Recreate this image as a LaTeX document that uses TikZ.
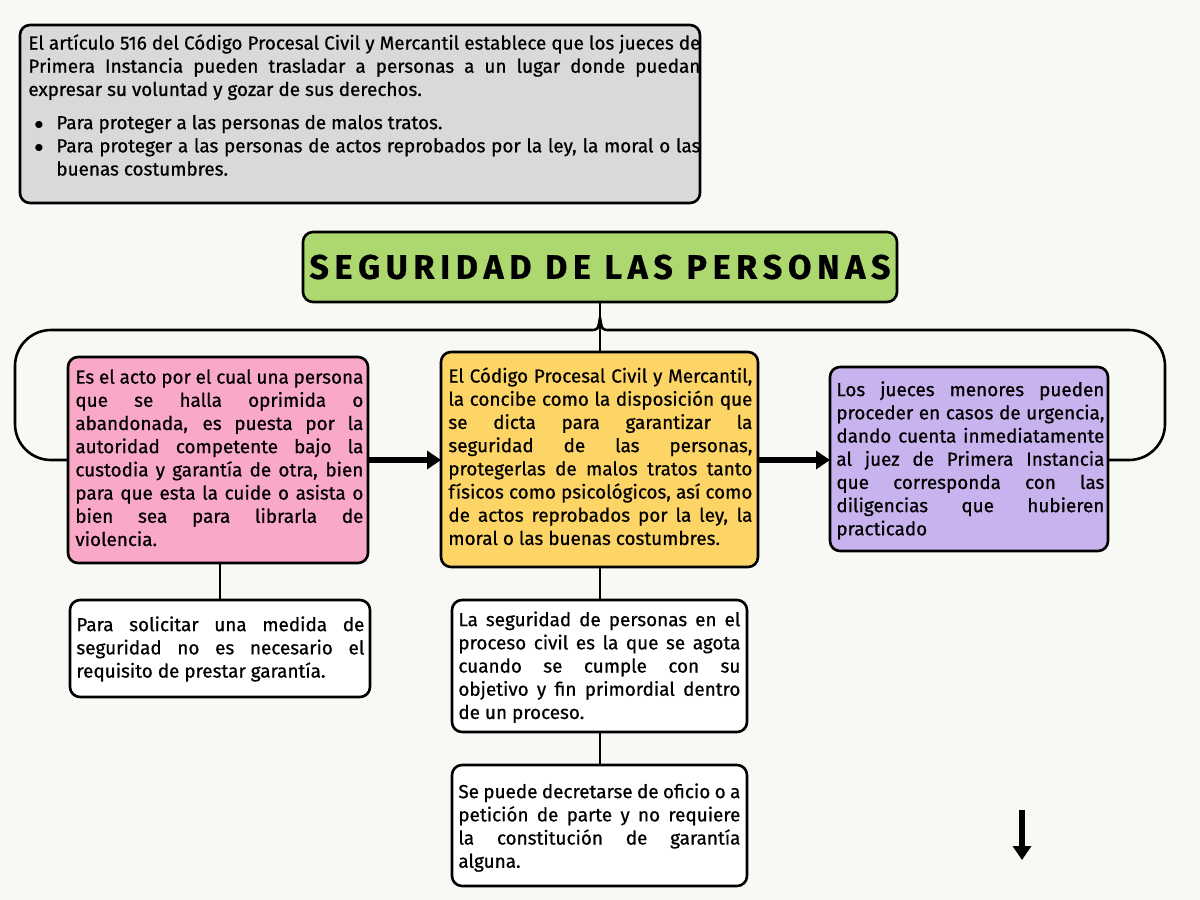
\documentclass[tikz,border=0pt]{standalone}
\usepackage{fontspec}
\setmainfont{Fira Sans}[FakeBold=0.7]
\usetikzlibrary{arrows.meta}
\definecolor{bg}{HTML}{F8F8F4}
\definecolor{gr}{HTML}{D9D9D9}
\definecolor{grn}{HTML}{ADD870}
\definecolor{pk}{HTML}{F9A8C8}
\definecolor{ye}{HTML}{FDD466}
\definecolor{pu}{HTML}{C9B3EE}
\newcommand\myNoHy{\hyphenpenalty=10000\relax\exhyphenpenalty=10000\relax\lefthyphenmin=62\relax\righthyphenmin=62\relax\tolerance=9999\relax\emergencystretch=30pt\relax}
\newcommand\lb{\linebreak}
\begin{document}
\begin{tikzpicture}[x=0.5pt,y=-0.5pt,
 bx/.style={draw=black,line width=1.3pt,rounded corners=5pt,inner sep=0pt},
 tx/.style={align=justify,font=\fontsize{9.45}{11.6}\selectfont,inner sep=0pt,execute at begin node=\myNoHy},
 ln/.style={line width=1.3pt},
 ar/.style={line width=3pt,-{Triangle[length=7pt,width=9pt]}}]
\fill[bg] (0,0) rectangle (1200,900);
\path[use as bounding box] (0,0) rectangle (1200,900);
% boxes
\draw[bx,fill=gr] (20,25) rectangle (700,203);
\node[tx,anchor=north west,text width=336pt] (top) at (28,34) {El artículo 516 del Código Procesal Civil y Mercantil establece que los jueces de\lb{} Primera Instancia pueden trasladar a personas a un lugar donde puedan\lb{} expresar su voluntad y gozar de sus derechos.\par\vspace{5pt}
\noindent\makebox[14pt][l]{\hspace{3pt}$\bullet$}\parbox[t]{322pt}{\myNoHy Para proteger a las personas de malos tratos.}\par
\noindent\makebox[14pt][l]{\hspace{3pt}$\bullet$}\parbox[t]{322pt}{\myNoHy Para proteger a las personas de actos reprobados por la ley, la moral o las buenas costumbres.}};
\draw[bx,fill=grn] (303,232) rectangle (897,302);
\node[font=\fontsize{17}{17}\selectfont\bfseries] (title) at (600,267) {S\,E\,G\,U\,R\,I\,D\,A\,D\ \,D\,E\ \,L\,A\,S\ \,P\,E\,R\,S\,O\,N\,A\,S};
\coordinate (tb) at (600,302);
\draw[bx,fill=pk] (68,357) rectangle (368,563);
\node[tx,anchor=north west,text width=144pt] (pink) at (75,369) {Es el acto por el cual una persona\lb{} que se halla oprimida o\lb{} abandonada, es puesta por la\lb{} autoridad competente bajo la\lb{} custodia y garantía de otra, bien\lb{} para que esta la cuide o asista o\lb{} bien sea para librarla de\lb{} violencia.};
\draw[bx,fill=ye] (441,352) rectangle (758,567);
\node[tx,anchor=north west,text width=152pt] (yel) at (448,367) {El Código Procesal Civil y Mercantil,\lb{} la concibe como la disposición que\lb{} se dicta para garantizar la\lb{} seguridad de las personas,\lb{} protegerlas de malos tratos tanto\lb{} físicos como psicológicos, así como\lb{} de actos reprobados por la ley, la\lb{} moral o las buenas costumbres.};
\draw[bx,fill=pu] (830,367) rectangle (1108,551);
\node[tx,anchor=north west,text width=134pt] (pur) at (836,381) {Los jueces menores pueden\lb{} proceder en casos de urgencia,\lb{} dando cuenta inmediatamente\lb{} al juez de Primera Instancia\lb{} que corresponda con las\lb{} diligencias que hubieren\lb{} practicado};
\draw[bx,fill=white] (70,600) rectangle (370,697);
\node[tx,anchor=north west,text width=144pt] (w1) at (76,616) {Para solicitar una medida de\lb{} seguridad no es necesario el\lb{} requisito de prestar garantía.};
\draw[bx,fill=white] (452,600) rectangle (747,732);
\node[tx,anchor=north west,text width=141pt] (w2) at (458,611) {La seguridad de personas en el\lb{} proceso civil es la que se agota\lb{} cuando se cumple con su\lb{} objetivo y fin primordial dentro\lb{} de un proceso.};
\draw[bx,fill=white] (452,765) rectangle (747,886);
\node[tx,anchor=north west,text width=141pt] (w3) at (458,783) {Se puede decretarse de oficio o a\lb{} petición de parte y no requiere\lb{} la constitución de garantía\lb{} alguna.};
% connectors
\coordinate (pl) at (68,460); \coordinate (pr) at (368,460);
\coordinate (yl) at (441,460); \coordinate (yr) at (758,460);
\coordinate (ul) at (830,460); \coordinate (ur) at (1108,460);
\coordinate (yt) at (600,352);
\draw[ln] (tb) -- (yt);
\draw[ln,rounded corners=18pt] (pl) -- (15,460) -- (15,330) -- (590,330);
\draw[ln,rounded corners=18pt] (ur) -- (1165,460) -- (1165,330) -- (610,330);
\draw[ln] (590,330) .. controls (598,330) .. (600,318) .. controls (602,330) .. (610,330);
\draw[ar] (pr) -- (yl);
\draw[ar] (yr) -- (ul);
\draw[ln] (220,563) -- (220,600);
\draw[ln] (600,567) -- (600,600);
\draw[ln] (600,732) -- (600,765);
\coordinate (d1) at (1022,810); \coordinate (d2) at (1022,860);
\draw[ar] (d1) -- (d2);
\end{tikzpicture}
\end{document}
